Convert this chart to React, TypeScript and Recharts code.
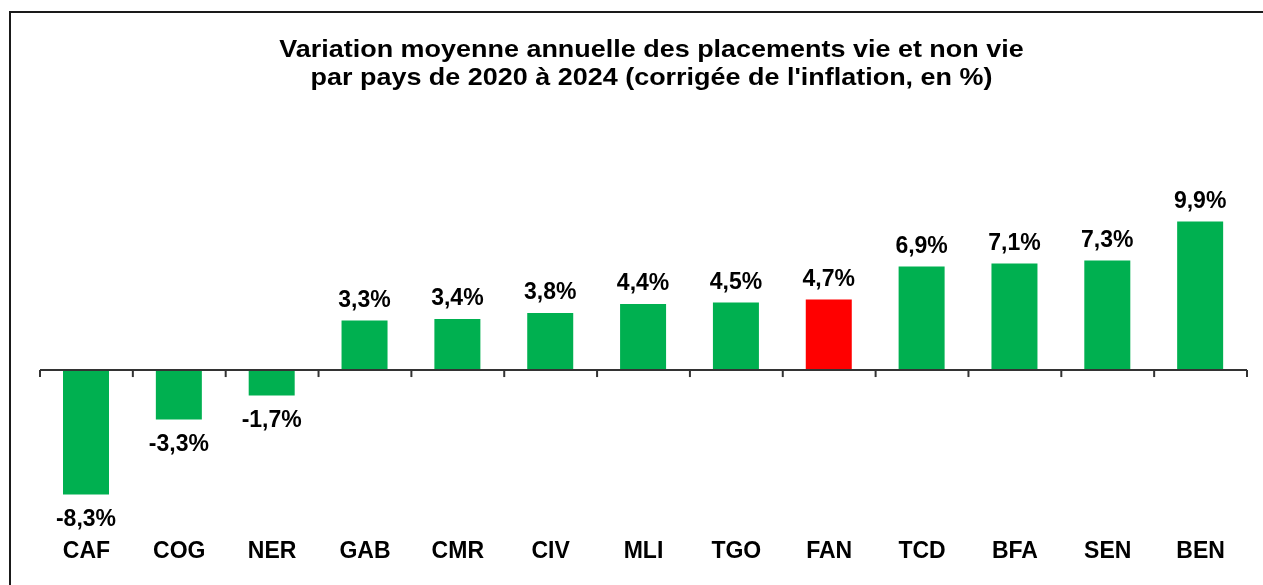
import { Bar, BarChart, Cell, LabelList, ReferenceLine, XAxis, YAxis } from "recharts";

const countries = ["CAF", "COG", "NER", "GAB", "CMR", "CIV", "MLI", "TGO", "FAN", "TCD", "BFA", "SEN", "BEN"];
const growth = [-8.3, -3.3, -1.7, 3.3, 3.4, 3.8, 4.4, 4.5, 4.7, 6.9, 7.1, 7.3, 9.9];
const highlighted = "FAN";

const titleLines = [
  "Variation moyenne annuelle des placements vie et non vie",
  "par pays de 2020 à 2024 (corrigée de l'inflation, en %)",
];

const data = countries.map((code, i) => ({ code, value: growth[i] }));
// tick marks on the zero line sit on the edges of each category band
const tickEdges = countries
  .map((code) => ({ code, position: "start" as const }))
  .concat({ code: countries[countries.length - 1], position: "end" as any });

const FONT = '"Liberation Sans", Arial, sans-serif';
const GREEN = "#00B050";
const RED = "#FF0000";
const AXIS = "#333333";

const fmt = (v: number) => v.toFixed(1).replace(".", ",") + "%";

function ValueLabel(props: any) {
  const { x, y, width, height, value } = props;
  const top = Math.min(y, y + height);
  const bottom = Math.max(y, y + height);
  const ty = value >= 0 ? top - 14 : bottom + 31;
  return (
    <text x={x + width / 2} y={ty} textAnchor="middle" fontFamily={FONT} fontWeight="bold" fontSize={23} fill="#000">
      {fmt(value)}
    </text>
  );
}

function CategoryTick(props: any) {
  const { x, y, payload } = props;
  return (
    <text x={x} y={y + 38} textAnchor="middle" fontFamily={FONT} fontWeight="bold" fontSize={23} fill="#000">
      {payload.value}
    </text>
  );
}

export default function App() {
  return (
    <div style={{ position: "relative", width: 1247, height: 569, fontFamily: FONT }}>
      <div
        style={{
          position: "fixed",
          left: 9,
          top: 11,
          right: 0,
          bottom: 0,
          borderLeft: "2px solid #1a1a1a",
          borderTop: "2px solid #1a1a1a",
          pointerEvents: "none",
        }}
      />
      <div
        style={{
          position: "absolute",
          left: 40,
          top: 27,
          width: 1207,
          textAlign: "center",
          fontWeight: "bold",
          fontSize: 24.5,
          lineHeight: "28px",
          color: "#000",
          transform: "scaleX(1.1)",
          transformOrigin: "center",
        }}
      >
        {titleLines.map((t) => (
          <div key={t}>{t}</div>
        ))}
      </div>
      <BarChart width={1247} height={569} data={data} margin={{ top: 182, right: 8, left: 32, bottom: 27 }}>
        <XAxis
          xAxisId="cat"
          dataKey="code"
          axisLine={false}
          tickLine={false}
          tickSize={0}
          tickMargin={0}
          interval={0}
          height={30}
          tick={<CategoryTick />}
        />
        <YAxis domain={[-10, 12]} allowDataOverflow hide />
        <Bar xAxisId="cat" dataKey="value" barSize={46} isAnimationActive={false}>
          {data.map((d) => (
            <Cell key={d.code} fill={d.code === highlighted ? RED : GREEN} />
          ))}
          <LabelList dataKey="value" content={<ValueLabel />} />
        </Bar>
        <ReferenceLine xAxisId="cat" y={0} stroke={AXIS} strokeWidth={2} />
        {tickEdges.map((t, i) => (
          <ReferenceLine
            key={i}
            xAxisId="cat"
            position={t.position}
            segment={[
              { x: t.code, y: 0 },
              { x: t.code, y: -0.47 },
            ]}
            stroke={AXIS}
            strokeWidth={2}
          />
        ))}
      </BarChart>
    </div>
  );
}
